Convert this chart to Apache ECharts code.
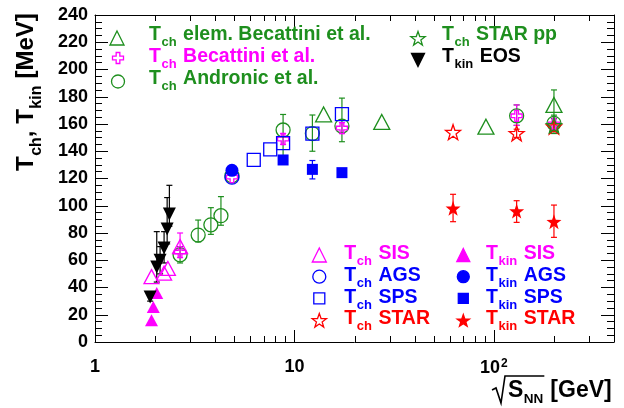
<!DOCTYPE html>
<html><head><meta charset="utf-8">
<script src="https://cdn.jsdelivr.net/npm/echarts@6/dist/echarts.min.js"></script>
<style>html,body{margin:0;padding:0;background:#fff}#c{width:624px;height:408px}</style>
</head><body><div id="c"></div>
<script>
// ---------------- data ----------------
const xTickMajor = [1, 10, 100];
const xTickLabels = ['1', '10', '10^2'];
const xTickMinor = [2,3,4,5,6,7,8,9,20,30,40,50,60,70,80,90,200,300];

// T_ch elem. Becattini et al. (green open triangles)
const elemX = [14, 27.4, 91.2, 200];
const elemY = [167, 161.5, 158, 174];
const elemLo = [0, 0, 0, 10];
const elemHi = [0, 0, 0, 11];

// T_ch Becattini et al. (magenta open cross)
const becX = [2.67, 4.86, 8.77, 17.3, 130, 200];
const becY = [66, 121, 149, 157, 166, 160];
const becLo = [0, 0, 4, 4, 7, 4];
const becHi = [0, 0, 4, 4, 8, 4];

// T_ch Andronic et al. (green open circles)
const andX = [2.67, 3.29, 3.81, 4.28, 4.86, 8.77, 12.3, 17.3, 130, 200];
const andY = [64, 78.5, 86, 92.7, 122, 155.6, 153, 158.5, 166, 160.5];
const andLo = [6, 5, 7, 7, 0, 19.6, 13, 11.5, 7, 5.5];
const andHi = [6, 11, 12.6, 14, 0, 11.4, 13.6, 20.5, 8, 6];

// T_ch STAR pp (green open star)
const ppX = [200];
const ppY = [159];
const ppLo = [6];
const ppHi = [5];

// T_kin EOS (black down triangles)
const eosX = [1.89, 2.04, 2.12, 2.22, 2.30, 2.36];
const eosY = [33, 55, 60, 69, 83, 94];
const eosLo = [3, 11, 10, 11, 11, 9];
const eosHi = [4, 26, 10, 12, 23, 21];

// SIS
const tchSisX = [1.92, 2.22, 2.32, 2.67];
const tchSisY = [48, 50.5, 54, 70];
const tchSisLo = [0, 0, 0, 8];
const tchSisHi = [0, 0, 0, 10];
const tkinSisX = [1.92, 1.96, 2.04];
const tkinSisY = [16, 25.7, 36];

// AGS
const tchAgsX = [4.86];
const tchAgsY = [121];
const tkinAgsX = [4.86];
const tkinAgsY = [126];

// SPS
const tchSpsX = [6.25, 7.56, 8.77, 12.3, 17.3];
const tchSpsY = [133.6, 141.4, 146, 153, 167.3];
const tkinSpsX = [8.77, 12.3, 17.3];
const tkinSpsY = [133.6, 126.7, 124.3];
const tkinSpsLo = [0, 7, 0];
const tkinSpsHi = [0, 6.5, 0];

// STAR
const tchStarX = [62.4, 130, 200];
const tchStarY = [154, 153.2, 158];
const tchStarLo = [0, 3, 3];
const tchStarHi = [0, 3, 3];
const tkinStarX = [62.4, 130, 200];
const tkinStarY = [98.1, 96.1, 88.3];
const tkinStarLo = [9.8, 8.3, 11.5];
const tkinStarHi = [10.3, 7.6, 12.2];

// ---------------- styling ----------------
const FF = '"Liberation Sans", Arial, Helvetica, sans-serif';
const GREEN = '#1e8f1e', MAG = '#ff00ff', BLUE = '#0000ff', RED = '#ff0000', BLACK = '#000000';

function pts(xs, ys) { return xs.map((x, i) => [x, ys[i]]); }
function errs(xs, ys, lo, hi) {
  const out = [];
  xs.forEach((x, i) => { if (lo[i] || hi[i]) out.push([x, ys[i] - lo[i], ys[i] + hi[i]]); });
  return out;
}
function starPts(cx, cy, R) {
  const p = [];
  for (let i = 0; i < 10; i++) {
    const r = i % 2 ? R * 0.4 : R;
    const a = -Math.PI / 2 + i * Math.PI / 5;
    p.push([cx + r * Math.cos(a), cy + r * Math.sin(a)]);
  }
  return p;
}
const STAR = 'path://' + starPts(0, 0, 1).map((q, i) => (i ? 'L' : 'M') + q[0].toFixed(4) + ' ' + q[1].toFixed(4)).join(' ') + 'Z';
const CROSS = 'path://M-1 -3L1 -3L1 -1L3 -1L3 1L1 1L1 3L-1 3L-1 1L-3 1L-3 -1L-1 -1Z';

function scatter(data, symbol, size, color, filled, z, extra) {
  return Object.assign({
    type: 'scatter', data, symbol, symbolSize: size, z: z || 5, silent: true,
    itemStyle: { color: filled ? color : 'rgba(0,0,0,0)', borderColor: color, borderWidth: filled ? 0 : 1.3, opacity: 1 },
    emphasis: { disabled: true }
  }, extra || {});
}
function errSeries(data, color) {
  return {
    type: 'custom', data, encode: { x: 0, y: [1, 2] }, clip: false, silent: true, z: 3,
    renderItem(params, api) {
      const x = api.value(0);
      const a = api.coord([x, api.value(1)]), b = api.coord([x, api.value(2)]);
      const c = 3, st = { stroke: color, lineWidth: 1.2 };
      return { type: 'group', children: [
        { type: 'line', shape: { x1: a[0], y1: a[1], x2: b[0], y2: b[1] }, style: st },
        { type: 'line', shape: { x1: a[0] - c, y1: a[1], x2: a[0] + c, y2: a[1] }, style: st },
        { type: 'line', shape: { x1: b[0] - c, y1: b[1], x2: b[0] + c, y2: b[1] }, style: st }
      ] };
    }
  };
}
const minorTickSeries = {
  type: 'custom', data: xTickMinor.map(v => [v, 0]), clip: false, silent: true, z: 2,
  renderItem(params, api) {
    const x = Math.round(api.coord([api.value(0), 0])[0]) + 0.5;
    const cs = params.coordSys, st = { stroke: '#000', lineWidth: 1 };
    return { type: 'group', children: [
      { type: 'line', shape: { x1: x, y1: cs.y + cs.height, x2: x, y2: cs.y + cs.height - 6 }, style: st },
      { type: 'line', shape: { x1: x, y1: cs.y, x2: x, y2: cs.y + 6 }, style: st }
    ] };
  }
};

// ---------------- text helpers ----------------
const mctx = document.createElement('canvas').getContext('2d');
function tw(t, size) { mctx.font = 'bold ' + size + 'px ' + FF; return mctx.measureText(t).width; }
function txt(t, x, y, size, color) {
  return { type: 'text', x, y, z: 100, style: { text: t, fill: color, font: 'bold ' + size + 'px ' + FF, align: 'left', verticalAlign: 'middle' } };
}
function latex(x, cy, sub, rest, color, S, s, dy) {
  S = S || 19.5; s = s || 13; dy = dy || 7.8;
  const els = [txt('T', x, cy, S, color)];
  const sx = x + tw('T', S) + 0.5;
  els.push(txt(sub, sx, cy + dy, s, color));
  const rx = sx + tw(sub, s) + 6.5;
  els.push(txt(rest, rx, cy, S, color));
  return els;
}
function marker(kind, cx, cy, size, color, filled) {
  const st = { fill: filled ? color : 'rgba(0,0,0,0)', stroke: color, lineWidth: 1.3 };
  const h = size / 2;
  let el;
  if (kind === 'tri') el = { type: 'polygon', shape: { points: [[cx, cy - h], [cx + h, cy + h], [cx - h, cy + h]] } };
  else if (kind === 'tridown') el = { type: 'polygon', shape: { points: [[cx - h, cy - h], [cx + h, cy - h], [cx, cy + h]] } };
  else if (kind === 'circle') el = { type: 'circle', shape: { cx, cy, r: h } };
  else if (kind === 'rect') el = { type: 'rect', shape: { x: cx - h, y: cy - h, width: size, height: size } };
  else if (kind === 'star') el = { type: 'polygon', shape: { points: starPts(cx, cy + 1, h + 1) } };
  else if (kind === 'cross') {
    const a = h / 3;
    el = { type: 'polygon', shape: { points: [[cx - a, cy - h], [cx + a, cy - h], [cx + a, cy - a], [cx + h, cy - a], [cx + h, cy + a], [cx + a, cy + a], [cx + a, cy + h], [cx - a, cy + h], [cx - a, cy + a], [cx - h, cy + a], [cx - h, cy - a], [cx - a, cy - a]] } };
  }
  el.style = st; el.z = 100;
  return el;
}

const graphics = [];
// top-left legend
graphics.push(marker('tri', 117, 38, 14, GREEN, false), ...latex(149, 35, 'ch', 'elem. Becattini et al.', GREEN));
graphics.push(marker('cross', 118, 58, 11, MAG, false), ...latex(149, 56.5, 'ch', 'Becattini et al.', MAG));
graphics.push(marker('circle', 118, 81.5, 13, GREEN, false), ...latex(149, 78.3, 'ch', 'Andronic et al.', GREEN));
// top-right legend
graphics.push(marker('star', 418, 38, 13, GREEN, false), ...latex(442, 35, 'ch', 'STAR pp', GREEN));
graphics.push(marker('tridown', 418, 60, 13, BLACK, true), ...latex(442, 57, 'kin', 'EOS', BLACK));
// bottom legend
const rowsY = [254, 275.7, 297.3, 319];
const legRows = [
  ['tri', MAG, 'SIS', 14, 13], ['circle', BLUE, 'AGS', 13, 12], ['rect', BLUE, 'SPS', 11, 10], ['star', RED, 'STAR', 13, 11]
];
legRows.forEach((r, i) => {
  graphics.push(marker(r[0], 319.3, rowsY[i] + 1, r[3], r[1], false), ...latex(344.3, rowsY[i], 'ch', r[2], r[1]));
  graphics.push(marker(r[0], 463.3, rowsY[i] + 1, r[4], r[1], true), ...latex(486, rowsY[i], 'kin', r[2], r[1]));
});
// y-axis title (rotated)
(function () {
  const S = 24, s = 16, dy = 10;
  const ch = [];
  let x = 0;
  ch.push(txt('T', x, 0, S, BLACK)); x += tw('T', S) + 0.5;
  ch.push(txt('ch', x, dy, s, BLACK)); x += tw('ch', s);
  ch.push(txt(', ', x, 0, S, BLACK)); x += tw(', ', S);
  ch.push(txt('T', x, 0, S, BLACK)); x += tw('T', S) + 0.5;
  ch.push(txt('kin', x, dy, s, BLACK)); x += tw('kin', s) + 7;
  ch.push(txt('[MeV]', x, 0, S, BLACK));
  graphics.push({ type: 'group', x: 26.5, y: 171, rotation: Math.PI / 2, children: ch, z: 100 });
})();
// x-axis title with radical
(function () {
  const S = 23, s = 13.5;
  let x = 508;
  const cy = 391;
  graphics.push(txt('S', x, cy, S, BLACK)); x += tw('S', S) + 0.5;
  graphics.push(txt('NN', x, cy + 8, s, BLACK)); x += tw('NN', s);
  const barEnd = x + 1;
  x += 7;
  graphics.push(txt('[GeV]', x, cy, S, BLACK));
  graphics.push({ type: 'polyline', z: 100, shape: { points: [[492, 390], [496, 388], [501, 403], [505, 376], [barEnd, 376]] }, style: { stroke: '#000', lineWidth: 1.6, fill: null } });
})();

// ---------------- chart ----------------
const chart = echarts.init(document.getElementById('c'), null, { renderer: 'canvas' });
const axisLineStyle = { color: '#000', width: 1 };
function xAxisDef(pos, labels) {
  return {
    type: 'log', logBase: 10, min: 1, max: 400, position: pos,
    axisLine: { show: true, onZero: false, lineStyle: axisLineStyle },
    axisTick: { show: true, inside: true, length: 12, customValues: xTickMajor, lineStyle: { color: '#000' } },
    axisLabel: labels ? {
      show: true, customValues: xTickMajor, margin: 16, color: '#000',
      formatter: v => {
        const i = xTickMajor.findIndex(t => Math.abs(t - v) / t < 1e-6);
        const l = i >= 0 ? xTickLabels[i] : String(v);
        if (l.indexOf('^') >= 0) { const p = l.split('^'); return '{b|' + p[0] + '}{sup|' + p[1] + '}'; }
        return '{b|' + l + '}';
      },
      rich: {
        b: { fontSize: 18, fontWeight: 'bold', fontFamily: FF, color: '#000' },
        sup: { fontSize: 12, fontWeight: 'bold', fontFamily: FF, color: '#000', padding: [0, 0, 9, 1] }
      }
    } : { show: false },
    splitLine: { show: false }, minorTick: { show: false }
  };
}
function yAxisDef(pos, labels) {
  return {
    type: 'value', min: 0, max: 240, interval: 20, position: pos,
    axisLine: { show: true, onZero: false, lineStyle: axisLineStyle },
    axisTick: { show: true, inside: true, length: 13, lineStyle: { color: '#000' } },
    minorTick: { show: true, splitNumber: 4, length: 7, lineStyle: { color: '#000' } },
    axisLabel: labels ? { show: true, fontSize: 18, fontWeight: 'bold', fontFamily: FF, color: '#000', margin: 7 } : { show: false },
    splitLine: { show: false }, minorSplitLine: { show: false }
  };
}

const option = {
  animation: false,
  backgroundColor: '#fff',
  grid: { left: 95, right: 10, top: 15, bottom: 66 },
  xAxis: [xAxisDef('bottom', true), xAxisDef('top', false)],
  yAxis: [yAxisDef('left', true), yAxisDef('right', false)],
  series: [
    minorTickSeries,
    errSeries(errs(elemX, elemY, elemLo, elemHi), GREEN),
    errSeries(errs(andX, andY, andLo, andHi), GREEN),
    errSeries(errs(becX, becY, becLo, becHi), MAG),
    errSeries(errs(ppX, ppY, ppLo, ppHi), GREEN),
    errSeries(errs(eosX, eosY, eosLo, eosHi), BLACK),
    errSeries(errs(tchSisX, tchSisY, tchSisLo, tchSisHi), MAG),
    errSeries(errs(tkinSpsX, tkinSpsY, tkinSpsLo, tkinSpsHi), BLUE),
    errSeries(errs(tchStarX, tchStarY, tchStarLo, tchStarHi), RED),
    errSeries(errs(tkinStarX, tkinStarY, tkinStarLo, tkinStarHi), RED),
    scatter(pts(elemX, elemY), 'triangle', [16, 15], GREEN, false, 5),
    scatter(pts(andX, andY), 'circle', 14, GREEN, false, 5),
    scatter(pts(becX, becY), CROSS, 11, MAG, false, 6),
    scatter(pts(tchSisX, tchSisY), 'triangle', [15, 14], MAG, false, 6),
    scatter(pts(tkinSisX, tkinSisY), 'triangle', [13, 12], MAG, true, 6),
    scatter(pts(eosX, eosY), 'triangle', [13, 13], BLACK, true, 7, { symbolRotate: 180 }),
    scatter(pts(tchAgsX, tchAgsY), 'circle', 14, BLUE, false, 6),
    scatter(pts(tkinAgsX, tkinAgsY), 'circle', 13, BLUE, true, 7),
    scatter(pts(tchSpsX, tchSpsY), 'rect', 13, BLUE, false, 6),
    scatter(pts(tkinSpsX, tkinSpsY), 'rect', 11, BLUE, true, 7),
    scatter(pts(tchStarX, tchStarY), STAR, 15, RED, false, 7),
    scatter(pts(tkinStarX, tkinStarY), STAR, 15, RED, true, 7),
    scatter(pts(ppX, ppY), STAR, 15, GREEN, false, 8)
  ],
  graphic: { elements: graphics }
};
chart.setOption(option);
</script>
</body></html>
